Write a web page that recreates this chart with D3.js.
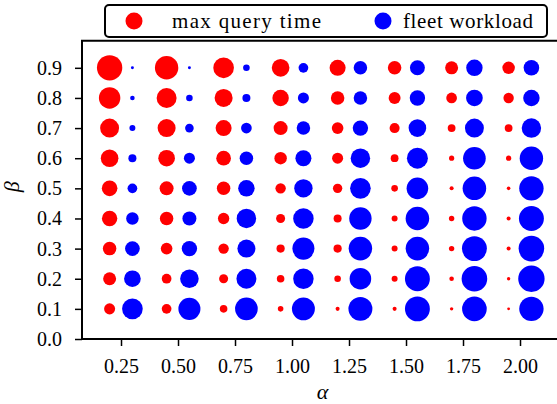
<!DOCTYPE html>
<html>
<head>
<meta charset="utf-8">
<script src="https://cdn.jsdelivr.net/npm/d3@7"></script>
<style>
  body { margin: 0; background: #fff; }
  svg { display: block; }
</style>
</head>
<body>
<svg id="chart" width="557" height="404"></svg>
<script>
// alpha positions of the two series (blue shifted right of red)
const alphaRed = [0.2, 0.45, 0.7, 0.95, 1.2, 1.45, 1.7, 1.95];
const alphaBlue = [0.3, 0.55, 0.8, 1.05, 1.3, 1.55, 1.8, 2.05];
// beta rows, top to bottom
const betas = [0.9, 0.8, 0.7, 0.6, 0.5, 0.4, 0.3, 0.2, 0.1];

// relative marker area (0-100), one row per beta, one column per alpha
const maxQueryTime = [
    [95, 81, 63, 46, 38, 27, 25, 23],
    [68, 59, 48, 40, 27, 21, 17, 16],
    [53, 48, 38, 29, 20, 15, 9, 9],
    [46, 41, 32, 23, 18, 9, 4, 4],
    [36, 29, 27, 16, 13, 6.4, 2.4, 1.9],
    [35, 27, 19, 12, 9.5, 5.3, 4.3, 2.4],
    [27, 20, 16, 10, 10, 5.3, 4.3, 2.4],
    [25, 14, 12, 8.5, 6.4, 5.3, 3.1, 1.7],
    [18, 14, 8.5, 4.6, 2.4, 2.4, 1.7, 1.2]
];
const fleetWorkload = [
    [1.3, 1.3, 6.4, 14, 27, 33, 40, 36],
    [3.1, 6.4, 9.5, 18, 27, 35, 41, 40],
    [5.3, 11, 17, 27, 35, 46, 53, 56],
    [9.5, 18, 27, 38, 56, 65, 76, 81],
    [14, 32, 40, 50, 63, 69, 82, 88],
    [23, 29, 56, 62, 74, 82, 88, 92],
    [32, 35, 48, 72, 82, 82, 92, 97],
    [41, 51, 59, 62, 69, 92, 97, 103],
    [63, 72, 76, 78, 85, 92, 90, 88]
];

const xTicks = [0.25, 0.5, 0.75, 1.0, 1.25, 1.5, 1.75, 2.0];
const yTicks = [0.0, 0.1, 0.2, 0.3, 0.4, 0.5, 0.6, 0.7, 0.8, 0.9];
const seriesNames = ['max query time', 'fleet workload'];
const seriesColors = ['#ff0000', '#0000ff'];

const FONT = '"Liberation Serif"';

const svg = d3.select('#chart');
const plot = { left: 82, right: 559, top: 40.7, bottom: 339 };

const x = d3.scaleLinear().domain([0.0789, 2.171]).range([plot.left, plot.right]);
const y = d3.scaleLinear().domain([0, 0.99]).range([plot.bottom, plot.top]);
const r = d3.scaleSqrt().domain([0, 100]).range([0, 13]);

// flatten into point records
function toPoints(alphas, grid, series) {
    const pts = [];
    betas.forEach((b, i) => {
        alphas.forEach((a, j) => {
            pts.push({ alpha: a, beta: b, value: grid[i][j], series: series });
        });
    });
    return pts;
}

const points = toPoints(alphaRed, maxQueryTime, 0)
    .concat(toPoints(alphaBlue, fleetWorkload, 1));

svg.append('g')
    .selectAll('circle')
    .data(points)
    .join('circle')
    .attr('cx', d => x(d.alpha))
    .attr('cy', d => y(d.beta))
    .attr('r', d => r(d.value))
    .style('fill', d => seriesColors[d.series]);

// axes
const xAxis = svg.append('g')
    .attr('transform', `translate(0,${plot.bottom})`)
    .call(d3.axisBottom(x).tickValues(xTicks).tickFormat(d3.format('.2f'))
        .tickSize(7).tickPadding(13).tickSizeOuter(0));

const yAxis = svg.append('g')
    .attr('transform', `translate(${plot.left},0)`)
    .call(d3.axisLeft(y).tickValues(yTicks).tickFormat(d3.format('.1f'))
        .tickSize(7).tickPadding(13).tickSizeOuter(0));

[xAxis, yAxis].forEach(ax => {
    ax.attr('font-family', null).attr('font-size', null);
    ax.select('.domain').remove();
    ax.selectAll('.tick line').style('stroke', '#000').style('stroke-width', 1.5);
    ax.selectAll('.tick text')
        .style('font-family', FONT)
        .style('font-size', '20px')
        .style('fill', '#000');
});

// spines (right spine falls outside the picture)
svg.append('path')
    .attr('d', `M${plot.left},${plot.bottom}V${plot.top}H${plot.right}M${plot.left},${plot.bottom}H${plot.right}`)
    .style('fill', 'none')
    .style('stroke', '#000')
    .style('stroke-width', 2);

// axis labels
svg.append('text')
    .attr('x', (plot.left + plot.right) / 2 + 2)
    .attr('y', 399)
    .attr('text-anchor', 'middle')
    .style('font-family', FONT)
    .style('font-size', '22px')
    .style('font-style', 'italic')
    .text('α');

svg.append('text')
    .attr('transform', `translate(19,${(plot.top + plot.bottom) / 2 - 3}) rotate(-90)`)
    .attr('text-anchor', 'middle')
    .style('font-family', FONT)
    .style('font-size', '22px')
    .style('font-style', 'italic')
    .text('β');

// legend
const legend = svg.append('g');
legend.append('rect')
    .attr('x', 105).attr('y', 5)
    .attr('width', 442).attr('height', 32)
    .attr('rx', 4)
    .style('fill', '#fff')
    .style('stroke', '#000')
    .style('stroke-width', 2);

const legendItems = [
    { cx: 134, tx: 172, width: 149 },
    { cx: 383, tx: 403, width: 130 }
];
legendItems.forEach((it, i) => {
    legend.append('circle')
        .attr('cx', it.cx).attr('cy', 21)
        .attr('r', 8.5)
        .style('fill', seriesColors[i]);
    legend.append('text')
        .attr('x', it.tx).attr('y', 27.5)
        .attr('textLength', it.width)
        .attr('lengthAdjust', 'spacing')
        .style('font-family', FONT)
        .style('font-size', '21px')
        .text(seriesNames[i]);
});
</script>
</body>
</html>
